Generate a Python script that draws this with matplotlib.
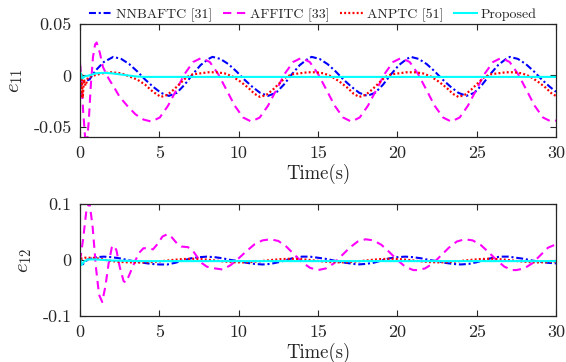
import matplotlib
matplotlib.use("Agg")
import matplotlib.pyplot as plt

plt.rcParams['font.family'] = ['cmr10', 'DejaVu Serif']
plt.rcParams['mathtext.fontset'] = 'cm'
plt.rcParams['axes.formatter.use_mathtext'] = True
plt.rcParams['lines.scale_dashes'] = False

# ---------------- data: e11 ----------------
t_nn_11 = [0, 0.05, 0.15, 0.3, 0.6, 1.0, 1.5,
           2.1, 2.6, 3.1, 3.6, 4.1, 4.6, 5.1, 5.6, 6.1, 6.6, 7.1, 7.6, 8.1,
           8.35, 8.85, 9.35, 9.85, 10.35, 10.85, 11.35, 11.85, 12.35, 12.85, 13.35, 13.85, 14.35,
           14.6, 15.1, 15.6, 16.1, 16.6, 17.1, 17.6, 18.1, 18.6, 19.1, 19.6, 20.1, 20.6,
           20.85, 21.35, 21.85, 22.35, 22.85, 23.35, 23.85, 24.35, 24.85, 25.35, 25.85, 26.35, 26.85,
           27.1, 27.6, 28.1, 28.6, 29.1, 29.6, 30.0]
v_nn_11 = [0.010, -0.010, -0.007, -0.006, -0.004, 0.005, 0.013,
           0.018, 0.016, 0.011, 0.004, -0.004, -0.011, -0.017, -0.020, -0.017, -0.009, 0.001, 0.010, 0.016,
           0.018, 0.016, 0.011, 0.004, -0.004, -0.011, -0.017, -0.020, -0.017, -0.009, 0.001, 0.010, 0.016,
           0.018, 0.016, 0.011, 0.004, -0.004, -0.011, -0.017, -0.020, -0.017, -0.009, 0.001, 0.010, 0.016,
           0.018, 0.016, 0.011, 0.004, -0.004, -0.011, -0.017, -0.020, -0.017, -0.009, 0.001, 0.010, 0.016,
           0.018, 0.016, 0.011, 0.004, -0.004, -0.011, -0.016]

t_af_11 = [0, 0.1, 0.2, 0.32, 0.42, 0.55, 0.68, 0.82, 0.95, 1.05, 1.25, 1.45, 1.8, 2.2, 2.5, 3.0, 3.5, 4.0,
           4.5, 5.03, 5.55, 6.08, 6.6, 7.13, 7.65, 8.18, 8.7, 9.23, 9.75, 10.28,
           10.8, 11.33, 11.85, 12.38, 12.9, 13.43, 13.95, 14.48, 15.0, 15.53, 16.05, 16.58,
           17.1, 17.63, 18.15, 18.68, 19.2, 19.73, 20.25, 20.78, 21.3, 21.83, 22.35, 22.88,
           23.4, 23.93, 24.45, 24.98, 25.5, 26.03, 26.55, 27.08, 27.6, 28.13, 28.65, 29.18,
           29.7, 30.0]
v_af_11 = [0.012, -0.010, -0.035, -0.060, -0.068, -0.045, -0.010, 0.018, 0.030, 0.032, 0.022, 0.008, -0.003, -0.013, -0.021, -0.030, -0.038, -0.043,
           -0.045, -0.041, -0.0295, -0.014, 0.0015, 0.013, 0.017, 0.013, 0.0015, -0.014, -0.0295, -0.041,
           -0.045, -0.041, -0.0295, -0.014, 0.0015, 0.013, 0.017, 0.013, 0.0015, -0.014, -0.0295, -0.041,
           -0.045, -0.041, -0.0295, -0.014, 0.0015, 0.013, 0.017, 0.013, 0.0015, -0.014, -0.0295, -0.041,
           -0.045, -0.041, -0.0295, -0.014, 0.0015, 0.013, 0.017, 0.013, 0.0015, -0.014, -0.0295, -0.041,
           -0.045, -0.044]

t_an_11 = [0, 0.04, 0.1, 0.17, 0.25, 0.35, 0.5, 0.9, 1.4, 2.0, 2.6, 3.1, 3.6, 4.1, 4.6,
           5.1, 5.5, 5.9, 6.3, 6.7, 7.1, 7.6, 8.1, 8.6, 9.1, 9.6, 10.1, 10.6, 11.0,
           11.35, 11.75, 12.15, 12.55, 12.95, 13.35, 13.85, 14.35, 14.85, 15.35, 15.85, 16.35, 16.85, 17.25,
           17.6, 18.0, 18.4, 18.8, 19.2, 19.6, 20.1, 20.6, 21.1, 21.6, 22.1, 22.6, 23.1, 23.5,
           23.85, 24.25, 24.65, 25.05, 25.45, 25.85, 26.35, 26.85, 27.35, 27.85, 28.35, 28.85, 29.35, 29.75,
           30.0]
v_an_11 = [0.009, -0.020, 0.002, -0.022, -0.004, -0.010, -0.002, 0.000, 0.002, 0.003, 0.002, -0.001, -0.004, -0.009, -0.016,
           -0.021, -0.019, -0.014, -0.008, -0.002, 0.001, 0.002, 0.003, 0.003, 0.002, -0.001, -0.006, -0.012, -0.018,
           -0.021, -0.019, -0.014, -0.008, -0.002, 0.001, 0.002, 0.003, 0.003, 0.002, -0.001, -0.006, -0.012, -0.018,
           -0.021, -0.019, -0.014, -0.008, -0.002, 0.001, 0.002, 0.003, 0.003, 0.002, -0.001, -0.006, -0.012, -0.018,
           -0.021, -0.019, -0.014, -0.008, -0.002, 0.001, 0.002, 0.003, 0.003, 0.002, -0.001, -0.006, -0.012, -0.018,
           -0.020]

t_pr_11 = [0, 0.05, 0.15, 0.3, 0.6, 1.0, 1.5, 2.0, 2.5, 3.0, 3.5, 4.0, 10.0, 20.0, 30.0]
v_pr_11 = [-0.004, 0.002, -0.003, -0.001, 0.000, 0.002, 0.0025, 0.002, 0.001, 0.000, -0.001, -0.0015, -0.0015, -0.0015, -0.0015]

# ---------------- data: e12 ----------------
t_nn_12 = [0, 0.1, 0.25, 0.5, 1.0, 1.5, 2.0, 2.5, 3.0, 3.5, 4.0, 4.5, 5.0, 5.5, 6.0, 6.5, 7.0, 7.5,
           8.0, 8.5, 9.0, 9.5, 10.0, 10.5, 11.0, 11.5, 12.0, 12.5, 13.0, 13.5, 14.0, 14.5, 15.0,
           15.5, 16.0, 16.5, 17.0, 17.5, 18.0, 18.5, 19.0, 19.5, 20.0, 20.5, 21.0, 21.5, 22.0,
           22.5, 23.0, 23.5, 24.0, 24.5, 25.0, 25.5, 26.0, 26.5, 27.0, 27.5, 28.0, 28.5, 29.0,
           29.5, 30.0]
v_nn_12 = [0.003, -0.011, -0.005, 0.001, 0.005, 0.006, 0.005, 0.003, 0.000, -0.003, -0.005, -0.007, -0.008, -0.008, -0.005, -0.001, 0.003, 0.005,
           0.006, 0.005, 0.003, 0.000, -0.002, -0.005, -0.007, -0.008, -0.007, -0.004, 0.000, 0.004, 0.006, 0.006, 0.004,
           0.002, -0.001, -0.004, -0.006, -0.008, -0.007, -0.005, -0.001, 0.003, 0.005, 0.006, 0.005, 0.003, 0.000,
           -0.002, -0.005, -0.007, -0.008, -0.007, -0.004, 0.000, 0.004, 0.006, 0.006, 0.004, 0.002, -0.001, -0.003,
           -0.005, -0.006]

t_af_12 = [0, 0.2, 0.4, 0.6, 0.8, 1.0, 1.2, 1.4, 1.6, 1.8, 2.0, 2.15, 2.3, 2.5, 2.75, 2.9, 3.1, 3.4, 3.7,
           4.0, 4.3, 4.6, 4.9, 5.2, 5.5, 5.8, 6.1, 6.4, 6.8, 7.1, 7.4, 7.7, 8.0, 8.5, 9.0, 9.5,
           10.0, 10.5, 11.0, 11.5, 12.0, 12.5, 13.0, 13.5, 14.0, 14.5, 15.0, 15.5, 16.0, 16.5,
           17.0, 17.5, 18.0, 18.5, 19.0, 19.5, 20.0, 20.5, 21.0, 21.25, 21.75, 22.25, 22.75,
           23.25, 23.75, 24.25, 24.75, 25.25, 25.75, 26.25, 26.75, 27.25, 27.5, 28.0, 28.5,
           29.0, 29.5, 30.0]
v_af_12 = [-0.002, 0.038, 0.088, 0.103, 0.058, -0.012, -0.062, -0.075, -0.047, -0.007, 0.022, 0.026, 0.017, -0.012, -0.038, -0.040, -0.027, -0.007, 0.012,
           0.021, 0.021, 0.019, 0.029, 0.042, 0.046, 0.040, 0.030, 0.024, 0.023, 0.017, 0.005, -0.006, -0.012, -0.015, -0.017, -0.009,
           0.003, 0.016, 0.028, 0.035, 0.037, 0.034, 0.024, 0.010, -0.004, -0.014, -0.018, -0.015, -0.006, 0.008,
           0.022, 0.033, 0.037, 0.035, 0.027, 0.014, 0.000, -0.012, -0.018, -0.018, -0.015, -0.006, 0.008,
           0.022, 0.033, 0.037, 0.035, 0.027, 0.014, 0.000, -0.012, -0.018, -0.018, -0.015, -0.006,
           0.008, 0.022, 0.028]

t_an_12 = [0, 0.1, 0.3, 0.8, 1.3, 1.8, 2.3, 2.9, 3.5, 3.9, 4.5, 5.15, 5.78, 6.4, 7.03, 7.65, 8.28, 8.9, 9.53,
           10.15, 10.78, 11.4, 12.03, 12.65, 13.28, 13.9, 14.53, 15.15, 15.78,
           16.4, 17.03, 17.65, 18.28, 18.9, 19.53, 20.15, 20.78, 21.4, 22.03,
           22.65, 23.28, 23.9, 24.53, 25.15, 25.78, 26.4, 27.03, 27.65, 28.28,
           28.9, 29.53, 30.0]
v_an_12 = [0.011, 0.002, 0.004, 0.004, 0.002, -0.001, -0.003, -0.004, -0.0043, -0.0043, -0.0037, -0.0021, -0.0001, 0.0015, 0.0023, 0.0015, -0.0001, -0.0021, -0.0037,
           -0.0043, -0.0037, -0.0021, -0.0001, 0.0015, 0.0023, 0.0015, -0.0001, -0.0021, -0.0037,
           -0.0043, -0.0037, -0.0021, -0.0001, 0.0015, 0.0023, 0.0015, -0.0001, -0.0021, -0.0037,
           -0.0043, -0.0037, -0.0021, -0.0001, 0.0015, 0.0023, 0.0015, -0.0001, -0.0021, -0.0037,
           -0.0043, -0.0037, -0.0025]

t_pr_12 = [0, 0.1, 0.25, 0.5, 1.0, 2.0, 4.0, 10.0, 20.0, 30.0]
v_pr_12 = [0.003, -0.009, -0.003, 0.001, 0.001, -0.001, -0.002, -0.002, -0.002, -0.002]

labels = ['NNBAFTC [31]', 'AFFITC [33]', 'ANPTC [51]', 'Proposed']
xticks = [0, 5, 10, 15, 20, 25, 30]
yticks_11 = [-0.05, 0, 0.05]
yticklabels_11 = ['-0.05', '0', '0.05']
yticks_12 = [-0.1, 0, 0.1]
yticklabels_12 = ['-0.1', '0', '0.1']

# ---------------- styles ----------------
styles = [
    dict(color=(0, 0, 1), linestyle=(0, (5, 2, 1.5, 2)), linewidth=1.5),
    dict(color=(1, 0, 1), linestyle=(0, (6, 4)), linewidth=1.5),
    dict(color=(1, 0, 0), linestyle=(0, (1.4, 1.6)), linewidth=1.6),
    dict(color=(0, 1, 1), linestyle='-', linewidth=1.5),
]

W, H = 566, 362
fig = plt.figure(figsize=(W / 100, H / 100), dpi=100)
ax1 = fig.add_axes([80 / W, 1 - 137 / H, 476 / W, 113 / H])
ax2 = fig.add_axes([80 / W, 1 - 316 / H, 476 / W, 112 / H])

axcol = '#262626'

series_11 = [(t_nn_11, v_nn_11), (t_af_11, v_af_11), (t_an_11, v_an_11), (t_pr_11, v_pr_11)]
series_12 = [(t_nn_12, v_nn_12), (t_af_12, v_af_12), (t_an_12, v_an_12), (t_pr_12, v_pr_12)]

handles = []
for (t, v), st, lab in zip(series_11, styles, labels):
    h, = ax1.plot(t, v, label=lab, **st)
    handles.append(h)
for (t, v), st in zip(series_12, styles):
    ax2.plot(t, v, **st)

for ax, yt, ytl, yl, lab, lx in [
    (ax1, yticks_11, yticklabels_11, (-0.06, 0.05), r'$e_{11}$', -0.134),
    (ax2, yticks_12, yticklabels_12, (-0.1, 0.1), r'$e_{12}$', -0.115),
]:
    ax.set_xlim(0, 30)
    ax.set_ylim(*yl)
    ax.set_xticks(xticks)
    ax.set_xticklabels([str(x) for x in xticks])
    ax.set_yticks(yt)
    ax.set_yticklabels(ytl)
    ax.tick_params(direction='in', top=True, right=True, length=4, width=0.8,
                   colors=axcol, labelsize=13, pad=6)
    ax.tick_params(axis='x', pad=6)
    for sp in ax.spines.values():
        sp.set_color(axcol)
        sp.set_linewidth(0.9)
    ax.set_xlabel('Time(s)', fontsize=13.5, color=axcol, labelpad=2)
    ax.set_ylabel(lab, fontsize=15, color=axcol, va='center')
    ax.yaxis.set_label_coords(lx, 0.5)

fig.legend(handles=handles, labels=labels, loc='center', bbox_to_anchor=(313 / W, 1 - 15 / H),
           ncol=4, frameon=False, fontsize=10, handlelength=1.7, handletextpad=0.25,
           columnspacing=0.75, borderpad=0, labelcolor=axcol)

fig.savefig('out.png', dpi=100)
